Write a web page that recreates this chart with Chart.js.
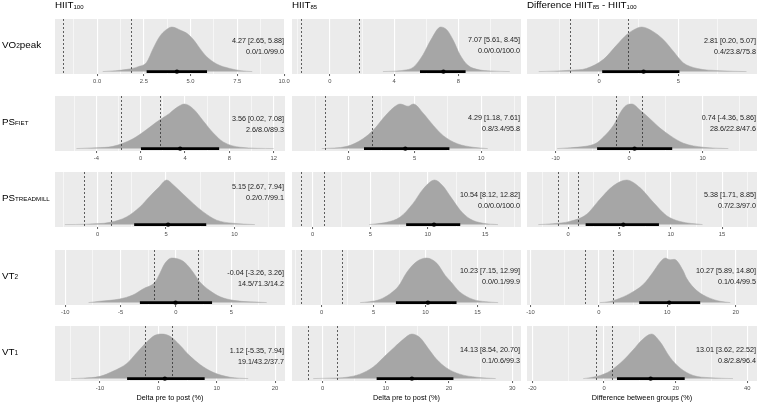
<!doctype html>
<html>
<head>
	<meta charset="UTF-8">
	<title>Posterior distributions HIIT100 / HIIT85</title>
	<script src="https://cdn.jsdelivr.net/npm/chart.js@4.4.1/dist/chart.umd.min.js"></script>
	<style>
		body { margin: 0; background: #fff; }
		#fig { position: relative; width: 758px; height: 404px; overflow: hidden; font-family: "Liberation Sans", Arial, sans-serif; color: #000; }
		#fig canvas { position: absolute; }
		.lbl { position: absolute; white-space: nowrap; }
		.col { font-size: 9.8px; line-height: 10px; top: 0; }
		.row { font-size: 9.8px; line-height: 10px; left: 2px; }
		.ann { font-size: 7.2px; line-height: 11px; text-align: right; color: #1a1a1a; }
		.xt { font-size: 7.3px; line-height: 9px; text-align: center; }
		.sub { font-size: 6px; vertical-align: -1px; }
		.s2 { font-size: 6.5px; }
		.sc { font-size: 6.2px; }
	</style>
</head>
<body>
<div id="fig"></div>
<script>
	// rows: outcomes, columns: HIIT100, HIIT85, difference
	var outcomeHtml = ['VO<span class="s2">2</span>peak', 'PS<span class="sc">FIET</span>', 'PS<span class="sc">TREADMILL</span>', 'VT<span class="s2">2</span>', 'VT<span class="s2">1</span>'];
	var groupHtml = ['HIIT<span class="sub">100</span>', 'HIIT<span class="sub">85</span>', 'Difference HIIT<span class="sub">85</span> - HIIT<span class="sub">100</span>'];
	var xTitles = ['Delta pre to post (%)', 'Delta pre to post (%)', 'Difference between groups (%)'];

	// posterior median and 95% interval
	var median = [[4.27, 7.07, 2.81], [3.56, 4.29, 0.74], [5.15, 10.54, 5.38], [-0.04, 10.23, 10.27], [1.12, 14.13, 13.01]];
	var lower = [[2.65, 5.61, 0.20], [0.02, 1.18, -4.36], [2.67, 8.12, 1.71], [-3.26, 7.15, 5.89], [-5.35, 8.54, 3.62]];
	var upper = [[5.88, 8.45, 5.07], [7.08, 7.61, 5.86], [7.94, 12.82, 8.85], [3.26, 12.99, 14.80], [7.94, 20.70, 22.52]];

	// % below / inside / above the ROPE
	var probs = [
		[[0.0, 1.0, 99.0], [0.0, 0.0, 100.0], [0.4, 23.8, 75.8]],
		[[2.6, 8.0, 89.3], [0.8, 3.4, 95.8], [28.6, 22.8, 47.6]],
		[[0.2, 0.7, 99.1], [0.0, 0.0, 100.0], [0.7, 2.3, 97.0]],
		[[14.5, 71.3, 14.2], [0.0, 0.1, 99.9], [0.1, 0.4, 99.5]],
		[[19.1, 43.2, 37.7], [0.1, 0.6, 99.3], [0.8, 2.8, 96.4]]
	];

	// half width of the ROPE (dashed lines)
	var rope = [1.8, 1.75, 1.0, 2.0, 2.3];

	var tickLabels = [
		[['0.0', '2.5', '5.0', '7.5', '10.0'], ['0', '4', '8'], ['0', '5']],
		[['-4', '0', '4', '8', '12'], ['0', '5', '10'], ['-10', '0', '10']],
		[['0', '5', '10'], ['0', '5', '10', '15'], ['0', '5', '10', '15']],
		[['-10', '-5', '0', '5'], ['0', '5', '10', '15'], ['-10', '0', '10', '20']],
		[['-10', '0', '10', '20'], ['0', '10', '20', '30'], ['-20', '0', '20', '40']]
	];
	var xLimits = [
		[[-2.25, 10.05], [-2.36, 11.9], [-4.54, 9.96]],
		[[-7.73, 13.02], [-4.24, 13.0], [-13.9, 17.4]],
		[[-3.12, 13.7], [-1.8, 18.1], [-4.0, 18.4]],
		[[-10.93, 9.85], [-2.86, 19.2], [-10.5, 23.1]],
		[[-17.7, 21.7], [-4.86, 31.4], [-21.5, 42.7]]
	];

	// posterior density (height relative to the mode)
	var densityX = [
		[[0.3, 1.0, 1.6, 2.2, 2.65, 3.0, 3.35, 3.7, 4.0, 4.5, 4.8, 5.15, 5.5, 5.85, 6.4, 7.1, 7.7, 8.3],
		 [3.3, 4.0, 4.6, 5.2, 5.8, 6.3, 6.9, 7.3, 7.7, 8.1, 8.6, 9.3, 10.0, 11.2],
		 [-3.8, -2.9, -1.8, -0.8, 0.3, 1.1, 1.75, 2.2, 2.7, 3.4, 4.05, 4.7, 5.3, 6.2, 7.6, 9.3]],
		[[-5.8, -4.0, -2.5, -0.7, 0.5, 1.4, 2.0, 2.6, 3.25, 3.95, 4.75, 5.65, 6.55, 7.45, 9.0, 12.0],
		 [-2.0, -0.1, 1.1, 1.9, 2.65, 3.4, 3.9, 4.5, 4.9, 5.65, 6.4, 7.15, 8.2, 9.4, 10.5],
		 [-9.8, -8.0, -6.0, -4.5, -3.5, -2.1, -1.0, -0.3, 0.4, 1.5, 2.9, 4.2, 5.6, 7.4, 10.1, 13.5]],
		[[-2.4, -0.8, 0.9, 2.1, 3.1, 3.8, 4.45, 5.05, 5.5, 6.3, 7.0, 7.7, 8.7, 9.9, 11.5],
		 [4.9, 5.6, 6.4, 7.6, 8.7, 9.6, 10.6, 11.3, 12.05, 12.8, 13.65, 14.8, 16.1],
		 [-2.9, -1.5, 0.15, 1.8, 3.1, 4.4, 5.7, 7.0, 8.3, 9.6, 10.9, 13.1]],
		[[-7.9, -6.9, -5.1, -3.9, -2.95, -1.9, -1.45, -1.0, -0.4, 0.5, 1.0, 1.55, 2.1, 3.05, 4.0, 5.2, 8.2],
		 [3.7, 4.6, 5.6, 6.6, 7.4, 8.2, 9.15, 10.1, 11.1, 11.9, 12.4, 13.3, 14.6, 15.8, 17.0],
		 [0.15, 1.5, 2.6, 4.5, 6.5, 7.9, 8.9, 9.7, 10.4, 11.0, 12.3, 12.8, 14.3, 16.2, 17.7, 19.2]],
		[[-14.9, -12.9, -10.0, -7.7, -5.4, -3.7, -2.0, -0.6, 0.6, 2.0, 3.7, 5.4, 7.2, 9.4, 12.3, 15.4],
		 [-1.5, 1.0, 3.8, 5.9, 8.0, 10.1, 11.4, 12.75, 14.1, 15.4, 16.7, 18.0, 19.6, 21.7, 24.4, 27.4],
		 [-5.8, -4.8, -1.1, 1.7, 5.4, 8.2, 10.5, 13.3, 15.6, 18.4, 21.2, 24.9, 29.6, 36.0]]
	];
	var densityY = [
		[[0, 0.02, 0.05, 0.11, 0.21, 0.52, 0.79, 0.94, 1.0, 0.92, 0.86, 0.72, 0.52, 0.34, 0.17, 0.07, 0.02, 0],
		 [0, 0.01, 0.03, 0.1, 0.38, 0.72, 1.0, 0.93, 0.69, 0.38, 0.14, 0.04, 0.015, 0],
		 [0, 0.01, 0.03, 0.07, 0.28, 0.59, 0.83, 0.94, 1.0, 0.9, 0.72, 0.45, 0.2, 0.07, 0.02, 0]],
		[[0, 0.02, 0.05, 0.22, 0.42, 0.59, 0.69, 0.79, 0.92, 1.0, 0.89, 0.62, 0.35, 0.15, 0.03, 0],
		 [0, 0.05, 0.22, 0.42, 0.69, 0.92, 1.0, 0.95, 1.0, 0.79, 0.52, 0.29, 0.11, 0.03, 0],
		 [0, 0.02, 0.05, 0.12, 0.26, 0.53, 0.86, 0.98, 1.0, 0.86, 0.66, 0.46, 0.29, 0.12, 0.03, 0]],
		[[0, 0.01, 0.05, 0.17, 0.4, 0.63, 0.83, 1.0, 0.9, 0.67, 0.47, 0.29, 0.1, 0.03, 0],
		 [0, 0.02, 0.05, 0.17, 0.47, 0.8, 1.0, 0.87, 0.6, 0.33, 0.13, 0.03, 0],
		 [0, 0.02, 0.07, 0.23, 0.57, 0.87, 1.0, 0.83, 0.5, 0.2, 0.07, 0]],
		[[0, 0.03, 0.08, 0.17, 0.31, 0.46, 0.66, 0.88, 1.0, 0.95, 0.85, 0.68, 0.48, 0.27, 0.13, 0.05, 0],
		 [0, 0.02, 0.07, 0.2, 0.37, 0.68, 0.92, 1.0, 0.88, 0.61, 0.48, 0.24, 0.07, 0.02, 0],
		 [0, 0.02, 0.07, 0.2, 0.41, 0.68, 0.9, 1.0, 0.96, 0.97, 0.72, 0.55, 0.27, 0.1, 0.03, 0]],
		[[0, 0.01, 0.05, 0.17, 0.34, 0.58, 0.82, 0.97, 1.0, 0.95, 0.75, 0.51, 0.31, 0.14, 0.03, 0],
		 [0, 0.01, 0.03, 0.1, 0.26, 0.54, 0.71, 0.88, 1.0, 0.92, 0.68, 0.44, 0.24, 0.1, 0.03, 0],
		 [0, 0.01, 0.07, 0.17, 0.41, 0.65, 0.86, 1.0, 0.83, 0.48, 0.24, 0.07, 0.02, 0]]
	];

	// layout (px)
	var colLeft = [55, 292, 527];
	var colWidth = [230, 229, 230];
	var rowTop = [15, 92, 168, 246, 322];
	var PANEL_H = 60, AXIS_H = 12, PAD = 14;
	var annTop = [[25.5, 24.5, 25], [26.3, 25.3, 25.3], [18, 26.3, 26.3], [26.7, 24, 24], [28, 27.3, 27.3]];

	var SLAB = '#A6A6A6';
	var PANEL_BG = '#EBEBEB';
	var FONT = '"Liberation Sans", Arial, sans-serif';

	var bgPlugin = {
		id: 'panelBg',
		beforeDraw: function (chart) {
			var a = chart.chartArea, ctx = chart.ctx;
			ctx.save();
			ctx.fillStyle = PANEL_BG;
			ctx.fillRect(a.left, a.top, a.right - a.left, a.bottom - a.top);
			ctx.restore();
		}
	};

	// dashed ROPE lines, drawn over the slab but under the interval
	var ropePlugin = {
		id: 'rope',
		beforeDatasetDraw: function (chart, args, opts) {
			if (args.index !== 1) return;
			var xs = chart.scales.x, a = chart.chartArea, ctx = chart.ctx;
			ctx.save();
			ctx.strokeStyle = '#222';
			ctx.lineWidth = 0.7;
			ctx.setLineDash([2, 2]);
			[-opts.half, opts.half].forEach(function (v) {
				var px = Math.round(xs.getPixelForValue(v)) + 0.5;
				ctx.beginPath();
				ctx.moveTo(px, a.top);
				ctx.lineTo(px, a.bottom);
				ctx.stroke();
			});
			ctx.restore();
		}
	};

	function buildTicks(labels, lim) {
		var vals = labels.map(parseFloat);
		var step = vals[1] - vals[0];
		var out = labels.map(function (s, i) { return { value: vals[i], lbl: s, isMajor: true }; });
		var v;
		for (v = vals[0] - step / 2; v >= lim[0]; v -= step) out.push({ value: v, lbl: '', isMajor: false });
		for (v = vals[0] + step / 2; v <= lim[1]; v += step) out.push({ value: v, lbl: '', isMajor: false });
		out.sort(function (a, b) { return a.value - b.value; });
		return out;
	}

	function fmt(v, d) { return v.toFixed(d); }

	var fig = document.getElementById('fig');

	function addLabel(cls, html, css) {
		var d = document.createElement('div');
		d.className = 'lbl ' + cls;
		d.innerHTML = html;
		for (var k in css) d.style[k] = css[k];
		fig.appendChild(d);
		return d;
	}

	function drawPanel(r, c) {
		var cv = document.createElement('canvas');
		var w = colWidth[c] + 2 * PAD, h = PANEL_H + AXIS_H;
		cv.width = w;
		cv.height = h;
		cv.style.width = w + 'px';
		cv.style.height = h + 'px';
		cv.style.left = (colLeft[c] - PAD) + 'px';
		cv.style.top = rowTop[r] + 'px';
		fig.appendChild(cv);

		var pts = densityX[r][c].map(function (x, i) { return { x: x, y: densityY[r][c][i] }; });
		var ticks = buildTicks(tickLabels[r][c], xLimits[r][c]);

		new Chart(cv.getContext('2d'), {
			type: 'line',
			data: {
				datasets: [
					{
						data: pts, fill: 'origin', backgroundColor: SLAB, borderColor: SLAB, borderWidth: 0.5,
						pointRadius: 0, cubicInterpolationMode: 'monotone', order: 3
					},
					{
						data: [{ x: lower[r][c], y: 0 }, { x: upper[r][c], y: 0 }],
						borderColor: '#000', borderWidth: 2.6, borderCapStyle: 'butt', pointRadius: 0, fill: false, order: 2
					},
					{
						data: [{ x: median[r][c], y: 0 }],
						showLine: false, pointRadius: 2.2, pointBackgroundColor: '#000', pointBorderWidth: 0, order: 1
					}
				]
			},
			options: {
				responsive: false,
				animation: false,
				events: [],
				layout: { padding: { left: PAD, right: PAD, top: 0, bottom: 0 } },
				plugins: {
					legend: { display: false },
					tooltip: { enabled: false },
					rope: { half: rope[r] }
				},
				scales: {
					x: {
						type: 'linear',
						min: xLimits[r][c][0],
						max: xLimits[r][c][1],
						afterBuildTicks: function (scale) { scale.ticks = ticks; },
						border: { display: false },
						grid: {
							color: '#FFFFFF',
							lineWidth: function (ctx) { return ctx.tick && ctx.tick.isMajor ? 1.1 : 0.55; },
							drawTicks: true,
							tickLength: 2,
							tickWidth: 0.8,
							tickColor: function (ctx) { return ctx.tick && ctx.tick.isMajor ? '#333333' : 'rgba(0,0,0,0)'; }
						},
						ticks: {
							autoSkip: false,
							maxRotation: 0,
							minRotation: 0,
							padding: 2,
							color: '#4D4D4D',
							font: { family: FONT, size: 5.8 },
							callback: function (value, index, all) { return all[index].lbl; }
						}
					},
					y: { type: 'linear', display: false, min: -0.055, max: 1.18 }
				}
			},
			plugins: [bgPlugin, ropePlugin]
		});

		var p = probs[r][c];
		var text = fmt(median[r][c], 2) + ' [' + fmt(lower[r][c], 2) + ', ' + fmt(upper[r][c], 2) + ']<br>' +
			fmt(p[0], 1) + '/' + fmt(p[1], 1) + '/' + fmt(p[2], 1);
		addLabel('ann', text, {
			right: (758 - (colLeft[c] + colWidth[c] - 1)) + 'px',
			top: (rowTop[r] + annTop[r][c] - 5.5) + 'px'
		});
	}

	for (var r = 0; r < 5; r++) {
		for (var c = 0; c < 3; c++) drawPanel(r, c);
		addLabel('row', outcomeHtml[r], { top: (rowTop[r] + PANEL_H / 2 - 5) + 'px' });
	}
	for (var k = 0; k < 3; k++) {
		addLabel('col', groupHtml[k], { left: colLeft[k] + 'px' });
		addLabel('xt', xTitles[k], { left: colLeft[k] + 'px', width: colWidth[k] + 'px', top: '393px' });
	}
</script>
</body>
</html>
